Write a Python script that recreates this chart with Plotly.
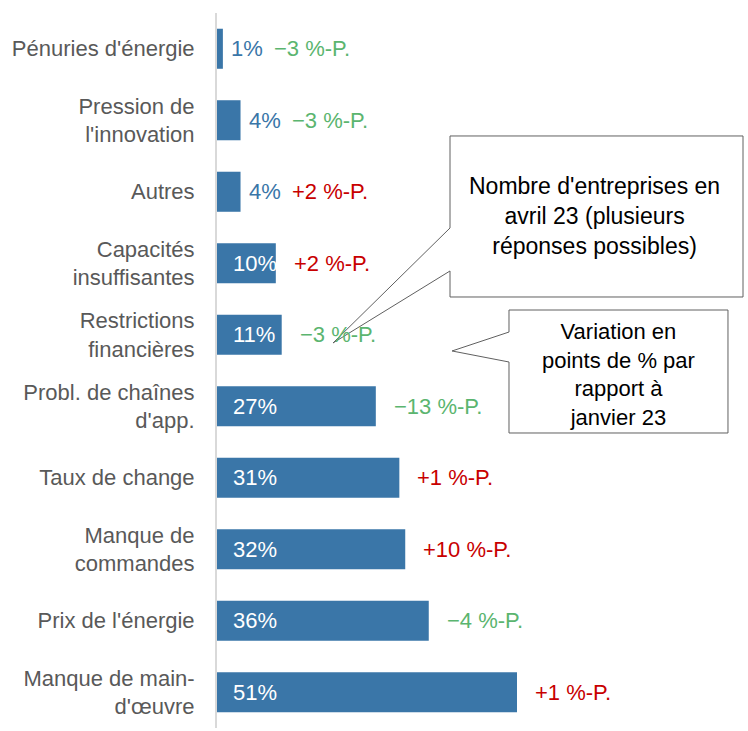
import plotly.graph_objects as go

categories = ["Pénuries d'énergie", "Pression de<br>l'innovation", "Autres",
              "Capacités<br>insuffisantes", "Restrictions<br>financières",
              "Probl. de chaînes<br>d'app.", "Taux de change", "Manque de<br>commandes",
              "Prix de l'énergie", "Manque de main-<br>d'œuvre"]
values = [1, 4, 4, 10, 11, 27, 31, 32, 36, 51]
changes = [-3, -3, 2, 2, -3, -13, 1, 10, -4, 1]

callout1_text = "Nombre d'entreprises en<br>avril 23 (plusieurs<br>réponses possibles)"
callout2_text = "Variation en<br>points de % par<br>rapport à<br>janvier 23"

BAR = "#3a76a8"
GREEN = "#5bb56f"
RED = "#c80000"
FONT = "Liberation Sans"

W, H = 748, 731
ML, MR, MT, MB = 217, 0, 13, 3
PW, PH = W - ML - MR, H - MT - MB


def px(x, y):
    return (x - ML) / PW, (H - MB - y) / PH


fig = go.Figure()
fig.add_trace(go.Bar(x=values, y=categories, orientation="h", marker_color=BAR,
                     marker_line_width=0, width=0.56, hoverinfo="skip"))

annotations = []
for c, v, d in zip(categories, values, changes):
    if v >= 10:
        annotations.append(dict(x=0, y=c, xref="x", yref="y", text=f"{v}%", showarrow=False,
                                xanchor="left", xshift=14, font=dict(color="white", size=22, family=FONT)))
        shift = 16
    else:
        annotations.append(dict(x=v, y=c, xref="x", yref="y", text=f"{v}%", showarrow=False,
                                xanchor="left", xshift=6, font=dict(color=BAR, size=22, family=FONT)))
        shift = 49
    txt = f"{d:+d} %-P.".replace("-", "\u2212", 1) if d < 0 else f"{d:+d} %-P."
    annotations.append(dict(x=v, y=c, xref="x", yref="y", text=txt, showarrow=False,
                            xanchor="left", xshift=shift,
                            font=dict(color=GREEN if d < 0 else RED, size=22, family=FONT)))


def path(points):
    s = ""
    for i, (x, y) in enumerate(points):
        a, b = px(x, y)
        s += ("M" if i == 0 else "L") + f"{a:.4f},{b:.4f} "
    return s + "Z"


shapes = [
    dict(type="path", xref="paper", yref="paper",
         path=path([(450, 136), (743, 136), (743, 297), (450, 297), (450, 271), (333, 343), (450, 228)]),
         fillcolor="white", line=dict(color="#606060", width=1)),
    dict(type="path", xref="paper", yref="paper",
         path=path([(509, 310), (728, 310), (728, 433), (509, 433), (509, 362), (452, 351), (509, 332)]),
         fillcolor="white", line=dict(color="#606060", width=1)),
]

cx, cy = px(594, 216)
annotations.append(dict(x=cx, y=cy, xref="paper", yref="paper", text=callout1_text, showarrow=False,
                        xanchor="center", yanchor="middle",
                        align="center", font=dict(color="black", size=23, family=FONT)))
cx, cy = px(618, 374)
annotations.append(dict(x=cx, y=cy, xref="paper", yref="paper", text=callout2_text, showarrow=False,
                        xanchor="center", yanchor="middle",
                        align="center", font=dict(color="black", size=22, family=FONT)))

fig.update_layout(
    width=W, height=H, margin=dict(l=ML, r=MR, t=MT, b=MB),
    plot_bgcolor="white", paper_bgcolor="white", showlegend=False,
    annotations=annotations, shapes=shapes,
    font=dict(family=FONT),
)
fig.update_xaxes(range=[0, PW / (300 / 51)], visible=False, showgrid=False, zeroline=False)
fig.update_yaxes(autorange="reversed", showline=True, linecolor="#d9d9d9", linewidth=2,
                 showgrid=False, ticks="", ticklabelstandoff=16, automargin=False,
                 tickfont=dict(size=22, color="#595959", family=FONT))

fig.write_html("out.html", config={"displayModeBar": False},
               post_script="document.body.style.margin='0';document.body.style.overflow='hidden';")
